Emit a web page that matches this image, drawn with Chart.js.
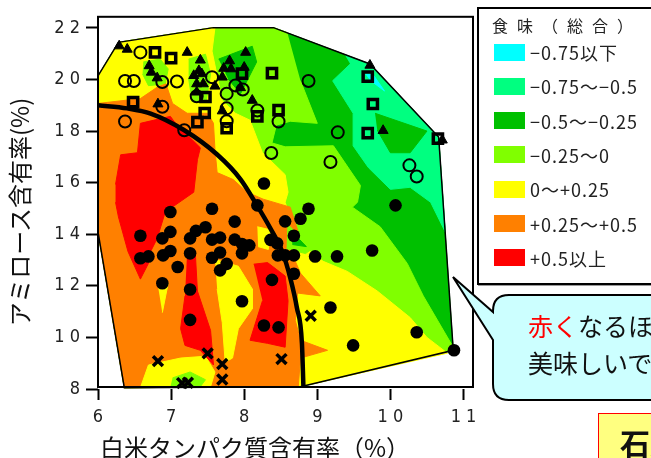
<!DOCTYPE html>
<html>
<head>
<meta charset="utf-8">
<script src="https://cdn.jsdelivr.net/npm/chart.js@4.4.1/dist/chart.umd.min.js"></script>
<style>
  body { margin: 0; background: #fff; }
  #wrap { position: relative; width: 651px; height: 458px; overflow: hidden; font-family: 'Noto Sans CJK JP', sans-serif; }
  #chart { position: absolute; left: 0; top: 0; }
  .abs { position: absolute; white-space: nowrap; }
  #ytitle { left: -111px; top: 197px; width: 260px; height: 30px; line-height: 30px; font-size: 24px; text-align: center; color: #111; transform: rotate(-90deg); }
  #xtitle { left: 100px; top: 432px; font-size: 24px; line-height: 30px; color: #111; }
  #legend { left: 477px; top: 7px; width: 200px; height: 274px; border: 2px solid #000; background: #fff; box-shadow: 1px 1px 0 #999; }
  .lgTitle { left: 492px; top: 13px; font-size: 16px; line-height: 24px; letter-spacing: 9px; color: #222; }
  .sw { left: 494px; width: 31px; height: 17px; }
  .lgText { left: 530px; font-size: 18px; line-height: 24px; letter-spacing: 1px; color: #222; }
  #bubbleText { left: 528px; top: 307px; font-size: 25px; line-height: 37px; color: #111; }
  #tag { left: 598px; top: 413px; width: 80px; height: 60px; background: #ffff80; border: 1.5px solid #f00; }
  #tagText { left: 620px; top: 424px; font-size: 30px; font-weight: bold; line-height: 36px; color: #111; }
</style>
</head>
<body>
<div id="wrap">
  <canvas id="chart" width="651" height="458"></canvas>
  <div id="ytitle" class="abs">アミロース含有率(%)</div>
  <div id="xtitle" class="abs">白米タンパク質含有率（%）</div>
  <div id="legend" class="abs"></div>
  <svg class="abs" style="left:0;top:0" width="651" height="458">
    <path d="M509 295 H700 V400 H509 Q493 400 493 384 V340 L453 277 L493 312 V311 Q493 295 509 295 Z" fill="#ccffff" stroke="#000" stroke-width="2"/>
  </svg>
  <div id="bubbleText" class="abs"><span style="color:#f00">赤く</span>なるほど<br>美味しいです</div>
  <div id="tag" class="abs"></div>
  <div id="tagText" class="abs">石川県</div>
</div>
<script>
// axis ticks
const xTicks = [6, 7, 8, 9, 10, 11];
const yTicks = [8, 10, 12, 14, 16, 18, 20, 22];

// legend levels (cyan .. red)
const legendTitle = '食味（総合）';
const legendLabels = ['−0.75以下', '−0.75～−0.5', '−0.5～−0.25', '−0.25～0', '0～+0.25', '+0.25～+0.5', '+0.5以上'];
const levelColors = ['#00ffff', '#00ff80', '#00c000', '#80ff00', '#ffff00', '#ff8000', '#ff0000'];

// contour areas, [protein, amylose]
const hullPts = [[6.00,20.14],[6.28,21.44],[7.58,22.01],[8.40,22.01],[9.72,20.60],[10.66,17.77],[10.86,9.50],[8.77,8.09],[6.36,8.05],[6.00,14.09]];
const springPts = [[9.38,20.94],[9.72,20.60],[10.66,17.77],[10.75,14.09],[10.55,15.24],[10.27,15.82],[10.00,15.74],[9.70,16.58],[9.49,17.43],[9.49,18.69],[9.21,19.95],[9.45,20.60]];
const dgIslandA = [[9.79,18.69],[10.50,18.00],[10.27,17.16],[10.00,17.16],[9.82,18.04]];
const cyanSliver = [[9.66,20.20],[9.76,20.20],[9.92,19.55],[9.72,19.98]];
const limePts = [[8.59,21.82],[8.40,22.01],[7.58,22.01],[6.28,21.44],[6.00,20.14],[6.00,14.09],[6.36,8.05],[8.77,8.09],[10.86,9.50],[10.86,9.62],[10.45,11.61],[10.23,12.87],[9.86,14.29],[9.48,15.05],[9.55,15.24],[9.59,15.89],[9.22,17.43],[8.56,17.39],[8.38,17.54],[8.44,18.23],[8.63,18.38],[9.00,18.30],[8.77,19.95]];
const dgIslandB = [[7.65,20.79],[8.11,21.29],[8.17,20.68],[7.95,19.45],[7.78,20.02]];
const yellowPts = [[6.00,20.14],[6.28,21.44],[7.58,22.01],[7.60,22.01],[7.56,21.10],[7.70,19.18],[7.88,18.69],[8.08,18.42],[8.25,17.16],[8.56,16.31],[8.60,15.63],[8.56,15.24],[8.63,14.67],[8.60,14.17],[8.67,13.52],[8.90,13.33],[9.08,12.95],[9.41,12.56],[9.82,11.80],[10.27,10.77],[10.50,10.00],[10.78,9.39],[8.77,8.09],[6.36,8.05],[6.00,14.09]];
const limeIslandA = [[6.62,20.68],[6.85,20.79],[6.96,20.41],[6.92,19.83],[6.69,19.76],[6.61,20.21]];
const limeIslandB = [[7.24,20.79],[7.47,20.98],[7.54,20.21],[7.48,19.14],[7.29,19.14],[7.24,20.02]];
const orangePts = [[6.00,19.07],[6.58,19.26],[6.82,19.72],[6.93,19.83],[7.02,19.07],[7.22,18.69],[7.50,18.69],[7.58,18.30],[7.60,17.28],[7.63,16.39],[7.85,16.12],[8.04,15.63],[8.26,15.36],[8.63,15.05],[8.73,14.17],[8.67,13.14],[8.77,12.49],[9.04,11.61],[8.73,11.72],[8.70,10.65],[8.77,9.89],[9.14,9.50],[8.77,9.20],[8.74,8.09],[6.36,8.05],[6.00,14.09]];
const yelFinger = [[7.60,13.02],[7.92,12.76],[8.11,11.88],[8.11,11.11],[7.92,10.34],[7.84,9.20],[7.74,9.04],[7.70,10.57],[7.63,11.88]];
const yelSpike = [[6.81,12.18],[6.96,12.10],[6.88,10.96]];
const yelCurve = [[8.18,14.29],[8.36,14.17],[8.33,13.41],[8.19,13.52]];
const yelBottom = [[6.58,8.05],[6.69,8.93],[7.13,9.20],[7.47,9.27],[7.60,8.66],[7.54,8.09]];
const limeBottom = [[7.02,8.43],[7.26,8.66],[7.47,8.36],[7.40,8.09],[6.99,8.09]];
const limePatch = [[8.59,14.40],[8.93,13.44],[8.84,13.25],[8.58,13.44]];
const dgIslandC = [[8.63,14.17],[8.85,13.52],[8.66,13.60]];
const redBig = [[6.24,15.93],[6.31,17.08],[6.54,17.16],[6.58,18.30],[6.99,18.57],[7.06,18.30],[7.29,17.66],[7.40,17.35],[7.36,16.89],[7.31,15.63],[6.92,14.86],[6.81,13.84],[6.72,13.33],[6.69,12.87],[6.58,12.26],[6.41,13.33],[6.28,14.67],[6.24,15.24]];
const redMid = [[7.22,13.33],[7.33,13.33],[7.36,11.80],[7.54,10.27],[7.58,8.93],[7.40,9.50],[7.19,9.69],[7.13,10.34],[7.19,11.61]];
const redRight = [[8.13,12.84],[8.32,12.90],[8.56,12.38],[8.60,11.42],[8.56,9.62],[8.32,9.77],[8.08,9.89],[8.25,11.42]];

// the thick boundary curve
const curvePts = [[6.0,19.0],[6.4,18.88],[6.72,18.68],[7.17,18.05],[7.63,17.09],[7.95,16.13],[8.175,15.12],[8.36,14.22],[8.52,13.33],[8.63,12.31],[8.72,11.16],[8.79,9.76],[8.81,8.1]];

// sample points by marker type
const filledCircles = [[8.27,15.97],[8.18,15.12],[8.88,14.99],[8.77,14.60],[8.56,14.50],[8.68,13.94],[8.36,13.78],[8.45,13.65],[8.46,13.18],[8.56,13.18],[8.68,13.18],[8.97,13.14],[9.27,13.14],[9.75,13.37],[10.07,15.12],[8.68,12.47],[9.18,11.16],[10.36,10.20],[9.49,9.69],[10.87,9.50],[8.38,12.23],[8.27,10.46],[8.47,10.39],[6.99,14.86],[7.56,14.99],[6.58,13.94],[6.88,13.84],[6.99,14.09],[7.26,13.84],[7.34,14.13],[7.47,14.27],[7.56,13.79],[7.67,13.87],[7.87,14.49],[7.87,13.79],[7.97,13.62],[8.07,13.57],[6.58,13.07],[6.69,13.14],[6.89,13.18],[6.99,13.35],[7.26,13.26],[7.56,13.09],[7.67,13.29],[7.67,12.60],[7.76,12.85],[7.97,13.26],[7.09,12.73],[6.88,12.10],[7.26,11.86],[7.97,11.40],[7.26,10.68]];
const crosses = [[6.82,9.08],[7.50,9.38],[7.70,8.97],[7.70,8.37],[7.15,8.23],[7.23,8.24],[8.51,9.16],[8.91,10.84]];
const openCircles = [[6.58,21.05],[6.37,19.94],[6.49,19.94],[6.88,19.90],[7.08,19.92],[7.56,20.09],[7.35,19.35],[6.88,18.94],[6.37,18.37],[7.18,18.03],[7.76,19.45],[7.88,19.77],[7.98,19.61],[7.76,18.88],[7.76,18.38],[8.18,18.80],[8.47,18.37],[8.37,17.15],[8.88,19.94],[9.28,17.95],[9.18,16.80],[10.26,16.67],[10.36,16.24]];
const squares = [[6.78,21.05],[7.00,20.83],[6.48,19.12],[7.47,19.32],[7.46,18.70],[7.36,18.35],[7.76,18.11],[7.97,20.23],[8.38,20.25],[8.18,18.57],[8.47,18.81],[9.69,20.11],[9.76,19.05],[9.69,17.92],[10.65,17.71]];
const triangles = [[6.29,21.30],[6.40,21.17],[6.70,20.53],[6.73,20.28],[6.81,20.06],[6.82,19.05],[7.22,21.05],[7.40,20.75],[7.38,20.34],[7.31,20.15],[7.35,19.83],[7.35,19.51],[7.42,20.22],[7.44,19.83],[7.72,20.43],[7.80,20.72],[7.82,20.41],[7.70,20.09],[7.60,19.74],[8.02,21.05],[8.00,20.47],[7.95,19.68],[8.11,19.19],[7.70,18.78],[9.72,20.55],[9.90,18.02],[10.71,17.65]];

const [CY, SG, DG, LM, YE, OR, RD] = levelColors;
const layers = [
  [hullPts, DG], [springPts, SG], [dgIslandA, DG], [cyanSliver, CY],
  [limePts, LM], [dgIslandB, DG],
  [yellowPts, YE], [limeIslandA, LM], [limeIslandB, LM],
  [orangePts, OR], [yelFinger, YE], [yelSpike, YE], [yelCurve, YE], [yelBottom, YE], [limeBottom, LM],
  [limePatch, LM], [dgIslandC, DG],
  [redBig, RD], [redMid, RD], [redRight, RD]
];

const toXY = pts => pts.map(p => ({ x: p[0], y: p[1] }));
const spaced = v => String(v).split('').join(' ');

// html legend
const lg = document.getElementById('wrap');
const t = document.createElement('div');
t.className = 'abs lgTitle';
t.textContent = legendTitle;
lg.insertBefore(t, document.getElementById('legend').nextSibling);
let prev = t;
legendLabels.forEach((lab, i) => {
  const sw = document.createElement('div');
  sw.className = 'abs sw';
  sw.style.top = (43.5 + i * 34.3) + 'px';
  sw.style.background = levelColors[i];
  const tx = document.createElement('div');
  tx.className = 'abs lgText';
  tx.style.top = (40 + i * 34.3) + 'px';
  tx.textContent = lab;
  prev.after(sw);
  sw.after(tx);
  prev = tx;
});

const datasets = [];
layers.forEach(([pts, col], i) => {
  datasets.push({
    type: 'line', data: toXY(pts), fill: 'shape', backgroundColor: col,
    borderColor: col, borderWidth: 1, pointRadius: 0, tension: 0,
    order: 100 - i
  });
});
datasets.push({
  type: 'line', data: toXY(hullPts.concat([hullPts[0]])), fill: false,
  borderColor: '#000', borderWidth: 1.5, pointRadius: 0, tension: 0, order: 20
});
datasets.push({
  type: 'line', data: toXY(curvePts), fill: false,
  borderColor: '#000', borderWidth: 4.5, pointRadius: 0, cubicInterpolationMode: 'monotone', order: 10
});
const marker = (pts, style, r, bg, bw) => ({
  type: 'scatter', data: toXY(pts), pointStyle: style, pointRadius: r,
  backgroundColor: bg, borderColor: '#000', borderWidth: bw, clip: false, order: 1
});
datasets.push(marker(filledCircles, 'circle', 6.3, '#000', 0));
datasets.push(marker(crosses, 'crossRot', 7, '#000', 3.5));
datasets.push(marker(openCircles, 'circle', 6, 'rgba(0,0,0,0)', 2));
datasets.push(marker(squares, 'rect', 6.5, 'rgba(0,0,0,0)', 3.5));
datasets.push(marker(triangles, 'triangle', 5.8, '#000', 1));

const tickFont = { family: "'Liberation Sans Narrow','DejaVu Sans Condensed','Liberation Sans',sans-serif", size: 18 };

const framePlugin = {
  id: 'frame',
  afterDatasetsDraw(chart) {
    const { ctx, chartArea: a } = chart;
    ctx.save();
    ctx.strokeStyle = '#000';
    ctx.lineWidth = 2;
    ctx.strokeRect(a.left, a.top, a.right - a.left, a.bottom - a.top - 2);
    ctx.restore();
  }
};

new Chart(document.getElementById('chart'), {
  type: 'scatter',
  data: { datasets },
  plugins: [framePlugin],
  options: {
    responsive: false,
    animation: false,
    events: [],
    layout: { padding: { left: 0, top: 12, right: 178, bottom: 0 } },
    plugins: { legend: { display: false }, tooltip: { enabled: false } },
    scales: {
      x: {
        type: 'linear', min: 6, max: 11.13,
        afterBuildTicks: s => { s.ticks = xTicks.map(v => ({ value: v })); },
        afterFit: s => { s.height = 69; },
        grid: { drawOnChartArea: false, drawTicks: true, tickLength: 11, tickWidth: 2, tickColor: '#000' },
        border: { display: false },
        ticks: { padding: 7, color: '#222', font: tickFont, autoSkip: false, maxRotation: 0, callback: v => spaced(v) }
      },
      y: {
        type: 'linear', min: 8, max: 22.43,
        afterBuildTicks: s => { s.ticks = yTicks.map(v => ({ value: v })); },
        afterFit: s => { s.width = 98; },
        grid: { drawOnChartArea: false, drawTicks: true, tickLength: 12, tickWidth: 2, tickColor: '#000' },
        border: { display: false },
        ticks: { padding: 6, color: '#222', font: tickFont, autoSkip: false, callback: v => spaced(v) }
      }
    }
  }
});
</script>
</body>
</html>
